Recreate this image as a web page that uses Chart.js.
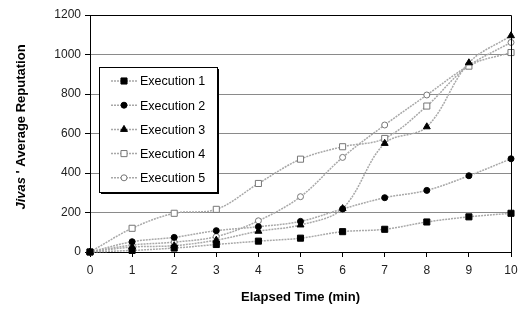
<!DOCTYPE html>
<html>
<head>
<meta charset="utf-8">
<script src="https://cdn.jsdelivr.net/npm/chart.js@4/dist/chart.umd.min.js"></script>
<style>
  html, body { margin: 0; padding: 0; background: #fff; }
  #wrap { width: 526px; height: 310px; }
</style>
</head>
<body>
<div id="wrap"><canvas id="chart" width="526" height="310"></canvas></div>
<script>
const minutes = [0, 1, 2, 3, 4, 5, 6, 7, 8, 9, 10];
const execution1 = [0, 8, 20, 38, 55, 70, 103, 115, 152, 178, 196];
const execution2 = [0, 52, 74, 108, 128, 155, 218, 275, 312, 386, 472];
const execution3 = [0, 25, 32, 60, 105, 137, 220, 550, 634, 958, 1095];
const execution4 = [0, 120, 196, 216, 347, 470, 533, 575, 739, 941, 1010];
const execution5 = [0, 35, 50, 78, 158, 280, 479, 643, 795, 946, 1061];
const seriesNames = ['Execution 1', 'Execution 2', 'Execution 3', 'Execution 4', 'Execution 5'];

const lineGray = '#a8a8a8';

function makeSet(name, values, style, hollow) {
    let r = 3;
    if (style === 'rect') r = 4.3;
    if (style === 'triangle') r = 4;
    return {
        label: name,
        data: values.map((v, i) => ({ x: minutes[i], y: v })),
        borderColor: lineGray,
        borderWidth: 1.5,
        borderDash: [2, 1],
        tension: 0.35,
        clip: false,
        pointStyle: style,
        pointRadius: r,
        pointBackgroundColor: hollow ? '#fff' : '#000',
        pointBorderColor: hollow ? '#777' : '#000',
        pointBorderWidth: 1,
        fill: false
    };
}

// border box, titles and the boxed legend inside the plot
const frame = {
    id: 'frame',
    afterDraw(chart) {
        const ctx = chart.ctx;
        const a = chart.chartArea;
        ctx.save();
        ctx.strokeStyle = '#000';
        ctx.lineWidth = 1;
        ctx.beginPath();
        ctx.moveTo(a.left, a.top + 0.5);
        ctx.lineTo(a.right + 0.5, a.top + 0.5);
        ctx.lineTo(a.right + 0.5, a.bottom);
        ctx.stroke();

        // x title
        ctx.fillStyle = '#000';
        ctx.font = 'bold 13px "Liberation Sans", Arial, sans-serif';
        ctx.textAlign = 'center';
        ctx.textBaseline = 'middle';
        ctx.fillText('Elapsed Time (min)', (a.left + a.right) / 2, 297);

        // y title, italic name then the rest
        ctx.translate(21, 127);
        ctx.rotate(-Math.PI / 2);
        const f1 = 'bold italic 13px "Liberation Sans", Arial, sans-serif';
        const f2 = 'bold 13px "Liberation Sans", Arial, sans-serif';
        const t1 = 'Jivas', t2 = " ' Average Reputation";
        ctx.font = f1; const w1 = ctx.measureText(t1).width;
        ctx.font = f2; const w2 = ctx.measureText(t2).width;
        let x0 = -(w1 + w2) / 2;
        ctx.textAlign = 'left';
        ctx.font = f1; ctx.fillText(t1, x0, 0);
        ctx.font = f2; ctx.fillText(t2, x0 + w1, 0);
        ctx.restore();

        // legend box
        ctx.save();
        const bx = 99, by = 67, bw = 118, bh = 125;
        ctx.fillStyle = '#000';
        ctx.fillRect(bx + 2, by + 2, bw, bh);
        ctx.fillStyle = '#fff';
        ctx.fillRect(bx, by, bw, bh);
        ctx.strokeStyle = '#000';
        ctx.lineWidth = 1;
        ctx.strokeRect(bx + 0.5, by + 0.5, bw, bh);
        ctx.font = '12.5px "Liberation Sans", Arial, sans-serif';
        ctx.textBaseline = 'middle';
        chart.data.datasets.forEach((ds, i) => {
            const yy = by + 14 + i * 24.2;
            ctx.strokeStyle = ds.borderColor;
            ctx.lineWidth = 1.5;
            ctx.setLineDash(ds.borderDash);
            ctx.beginPath();
            ctx.moveTo(bx + 12, yy);
            ctx.lineTo(bx + 38, yy);
            ctx.stroke();
            ctx.setLineDash([]);
            ctx.fillStyle = ds.pointBackgroundColor;
            ctx.strokeStyle = ds.pointBorderColor;
            ctx.lineWidth = 1;
            Chart.helpers.drawPoint(ctx, { pointStyle: ds.pointStyle, radius: ds.pointRadius, borderWidth: 1, rotation: 0 }, bx + 25, yy);
            ctx.fillStyle = '#000';
            ctx.fillText(ds.label, bx + 41, yy + 1);
        });
        ctx.restore();
    }
};

new Chart(document.getElementById('chart'), {
    type: 'line',
    data: {
        datasets: [
            makeSet(seriesNames[0], execution1, 'rect', false),
            makeSet(seriesNames[1], execution2, 'circle', false),
            makeSet(seriesNames[2], execution3, 'triangle', false),
            makeSet(seriesNames[3], execution4, 'rect', true),
            makeSet(seriesNames[4], execution5, 'circle', true)
        ]
    },
    options: {
        responsive: false,
        animation: false,
        layout: { padding: { top: 15, right: 15, left: 0, bottom: 0 } },
        plugins: { legend: { display: false }, tooltip: { enabled: false } },
        scales: {
            x: {
                type: 'linear',
                min: 0, max: 10,
                afterFit: s => { s.height = 58; },
                ticks: {
                    stepSize: 1,
                    color: '#222',
                    font: { size: 12, family: '"Liberation Sans", Arial, sans-serif' },
                    padding: 6,
                    callback: v => String(v)
                },
                grid: { drawOnChartArea: false, tickLength: 5, color: '#000' },
                border: { color: '#000', width: 1 }
            },
            y: {
                min: 0, max: 1200,
                afterFit: s => { s.width = 90; },
                ticks: {
                    stepSize: 200,
                    color: '#222',
                    font: { size: 12, family: '"Liberation Sans", Arial, sans-serif' },
                    padding: 4,
                    callback: v => String(v)
                },
                grid: {
                    color: c => (c.tick && c.tick.value === 1200 ? '#000' : '#8a8a8a'),
                    tickColor: '#000',
                    tickLength: 5
                },
                border: { color: '#000', width: 1 }
            }
        }
    },
    plugins: [frame]
});
</script>
</body>
</html>
